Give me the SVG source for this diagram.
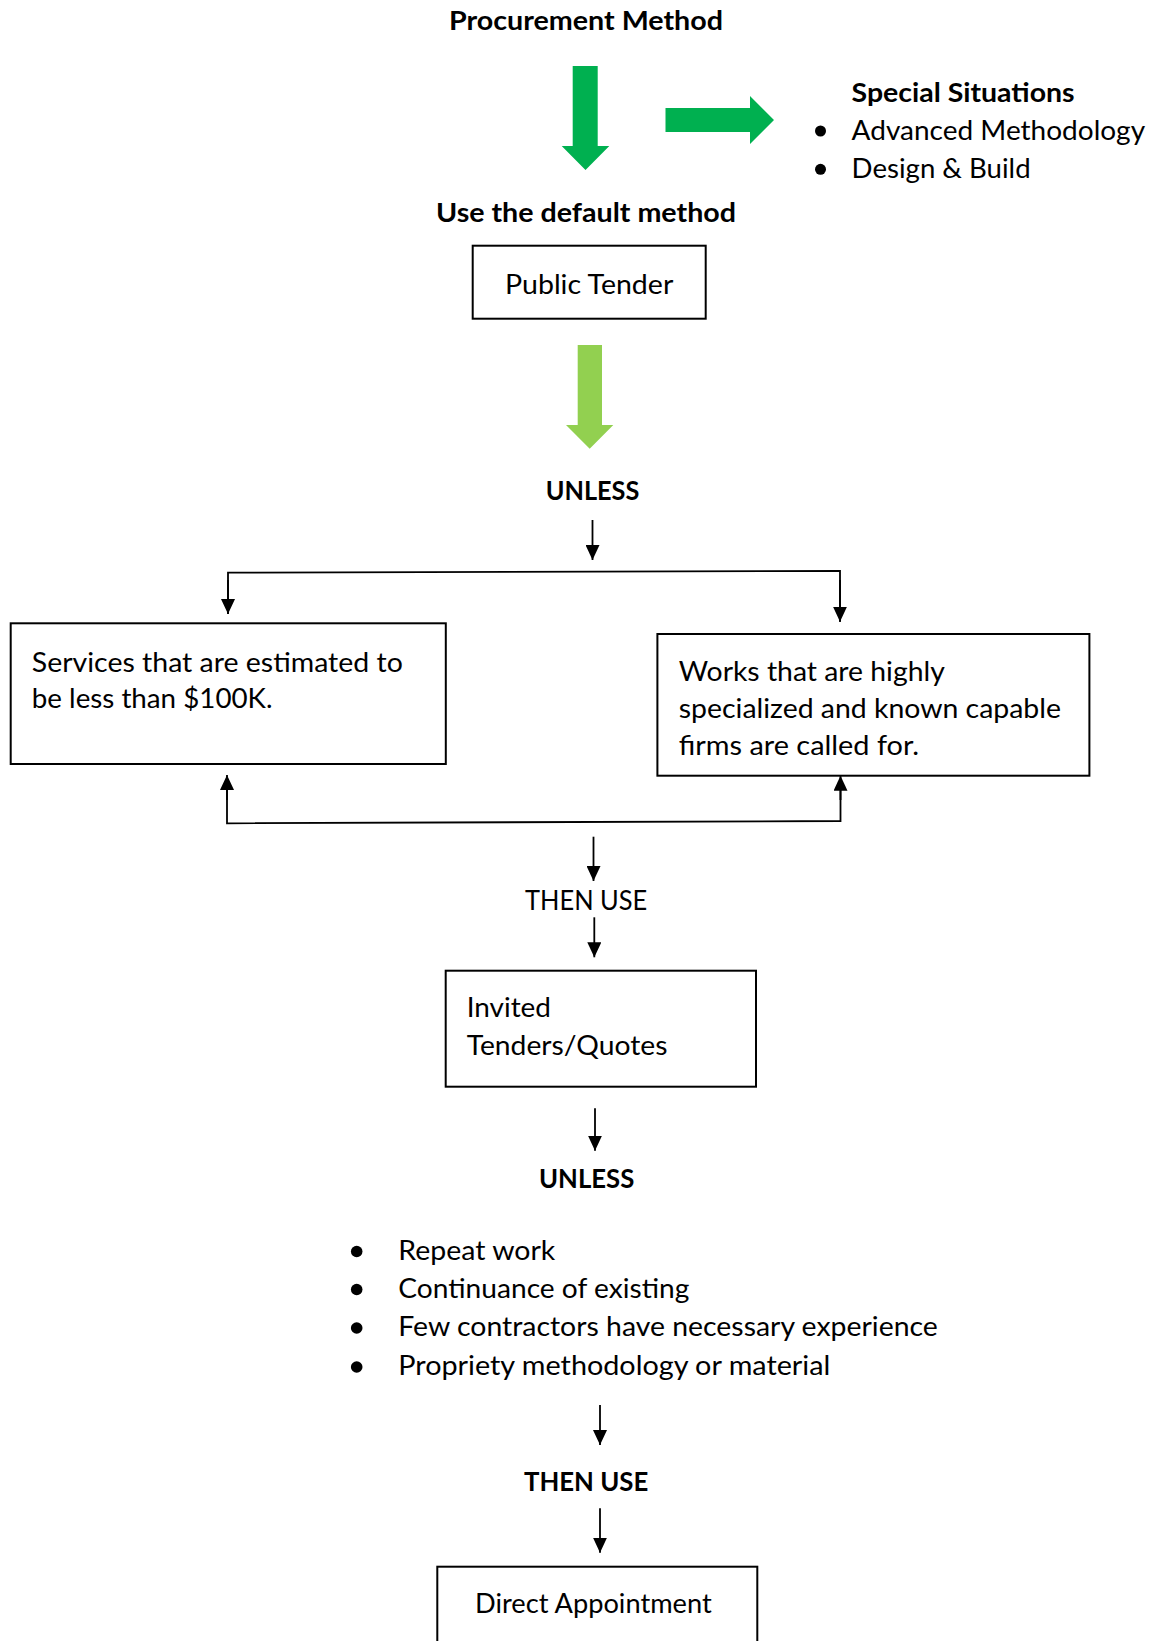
<svg xmlns="http://www.w3.org/2000/svg" width="1158" height="1641" viewBox="0 0 1158 1641">
<style>
text{font-family:Lato,"Liberation Sans",sans-serif;font-size:27.3px;fill:#000}
.b{font-weight:700}
.box{fill:#fff;stroke:#000;stroke-width:2}
.ln{fill:none;stroke:#000;stroke-width:1.8}
.bul{fill:#000}
</style>
<defs>
<marker id="ah" viewBox="0 0 15 14" markerWidth="15" markerHeight="14" refX="15" refY="7" orient="auto" markerUnits="userSpaceOnUse">
<path d="M0,0 L15,7 L0,14 z" fill="#000"/>
</marker>
</defs>
<rect width="1158" height="1641" fill="#fff"/>

<g id="title">
<text class="b" x="449" y="30" textLength="274" lengthAdjust="spacingAndGlyphs">Procurement Method</text>
</g>
<g id="green-down-arrow">
<polygon points="572.7,66 597.7,66 597.7,146 609.3,146 585.5,170 561.7,146 572.7,146" fill="#00B050"/>
</g>
<g id="green-right-arrow">
<polygon points="665.5,108 750,108 750,96 774,120 750,144 750,132 665.5,132" fill="#00B050"/>
</g>
<g id="special-situations">
<text class="b" x="851.6" y="101.7" textLength="223" lengthAdjust="spacingAndGlyphs">Special Situations</text>
<circle class="bul" cx="820.5" cy="131" r="5.5"/>
<text x="851.6" y="140" textLength="293.5" lengthAdjust="spacingAndGlyphs">Advanced Methodology</text>
<circle class="bul" cx="820.5" cy="169.3" r="5.5"/>
<text x="851.6" y="178.3" textLength="179" lengthAdjust="spacingAndGlyphs">Design &amp; Build</text>
</g>
<g id="default-label">
<text class="b" x="436" y="221.7" textLength="300" lengthAdjust="spacingAndGlyphs">Use the default method</text>
</g>
<g id="public-tender">
<rect class="box" x="472.7" y="245.7" width="233" height="73"/>
<text x="505" y="294" textLength="168.3" lengthAdjust="spacingAndGlyphs">Public Tender</text>
</g>
<g id="light-green-arrow">
<polygon points="577.7,345 602,345 602,425 613.3,425 589.7,448.7 566,425 577.7,425" fill="#92D050"/>
</g>
<g id="unless-1">
<text class="b" x="545.7" y="500" textLength="93.6" lengthAdjust="spacingAndGlyphs">UNLESS</text>
</g>
<g id="services">
<rect class="box" x="10.7" y="623.3" width="435.1" height="140.7"/>
<text x="31.8" y="671.7" textLength="371" lengthAdjust="spacingAndGlyphs">Services that are estimated to</text>
<text x="31.8" y="708.3" textLength="240.7" lengthAdjust="spacingAndGlyphs">be less than $100K.</text>
</g>
<g id="works">
<rect class="box" x="657.4" y="634" width="432" height="141.7"/>
<text x="678.8" y="680.7" textLength="266" lengthAdjust="spacingAndGlyphs">Works that are highly</text>
<text x="678.8" y="717.7" textLength="382.2" lengthAdjust="spacingAndGlyphs">specialized and known capable</text>
<text x="678.8" y="755" textLength="240.3" lengthAdjust="spacingAndGlyphs">firms are called for.</text>
</g>
<g id="then-use-1">
<text x="525" y="910" textLength="122.3" lengthAdjust="spacingAndGlyphs">THEN USE</text>
</g>
<g id="invited">
<rect class="box" x="445.7" y="970.7" width="310.3" height="116"/>
<text x="466.7" y="1016.7" textLength="84.3" lengthAdjust="spacingAndGlyphs">Invited</text>
<text x="466.7" y="1055" textLength="200.7" lengthAdjust="spacingAndGlyphs">Tenders/Quotes</text>
</g>
<g id="unless-2">
<text class="b" x="539" y="1188.3" textLength="95.3" lengthAdjust="spacingAndGlyphs">UNLESS</text>
</g>
<g id="exceptions">
<circle class="bul" cx="356.7" cy="1251.5" r="5.8"/>
<text x="398.3" y="1260" textLength="157" lengthAdjust="spacingAndGlyphs">Repeat work</text>
<circle class="bul" cx="356.7" cy="1289.5" r="5.8"/>
<text x="398.3" y="1297.5" textLength="291" lengthAdjust="spacingAndGlyphs">Continuance of existing</text>
<circle class="bul" cx="356.7" cy="1328" r="5.8"/>
<text x="398.3" y="1336" textLength="539.5" lengthAdjust="spacingAndGlyphs">Few contractors have necessary experience</text>
<circle class="bul" cx="356.7" cy="1367" r="5.8"/>
<text x="398.3" y="1375" textLength="432" lengthAdjust="spacingAndGlyphs">Propriety methodology or material</text>
</g>
<g id="then-use-2">
<text class="b" x="524" y="1491" textLength="124.3" lengthAdjust="spacingAndGlyphs">THEN USE</text>
</g>
<g id="direct-appointment">
<rect class="box" x="437.3" y="1566.7" width="320" height="100"/>
<text x="475" y="1612.7" textLength="236.7" lengthAdjust="spacingAndGlyphs">Direct Appointment</text>
</g>

<g id="connectors">
<line class="ln" x1="592.5" y1="520" x2="592.5" y2="560" marker-end="url(#ah)"/>
<polyline class="ln" points="228,614 228,572.7 840,571 840,621.7"/>
<line class="ln" x1="228" y1="580" x2="228" y2="614" marker-end="url(#ah)"/>
<line class="ln" x1="840" y1="580" x2="840" y2="621.7" marker-end="url(#ah)"/>
<polyline class="ln" points="227,790 227,823.3 840.5,821 840.5,790"/>
<line class="ln" x1="227" y1="800" x2="227" y2="775" marker-end="url(#ah)"/>
<line class="ln" x1="840.5" y1="800" x2="840.5" y2="775.7" marker-end="url(#ah)"/>
<line class="ln" x1="593.5" y1="836.7" x2="593.5" y2="881" marker-end="url(#ah)"/>
<line class="ln" x1="594.3" y1="917.3" x2="594.3" y2="957.3" marker-end="url(#ah)"/>
<line class="ln" x1="595" y1="1108.3" x2="595" y2="1150.7" marker-end="url(#ah)"/>
<line class="ln" x1="600" y1="1405" x2="600" y2="1445" marker-end="url(#ah)"/>
<line class="ln" x1="600" y1="1508.3" x2="600" y2="1552.7" marker-end="url(#ah)"/>
</g>
</svg>
